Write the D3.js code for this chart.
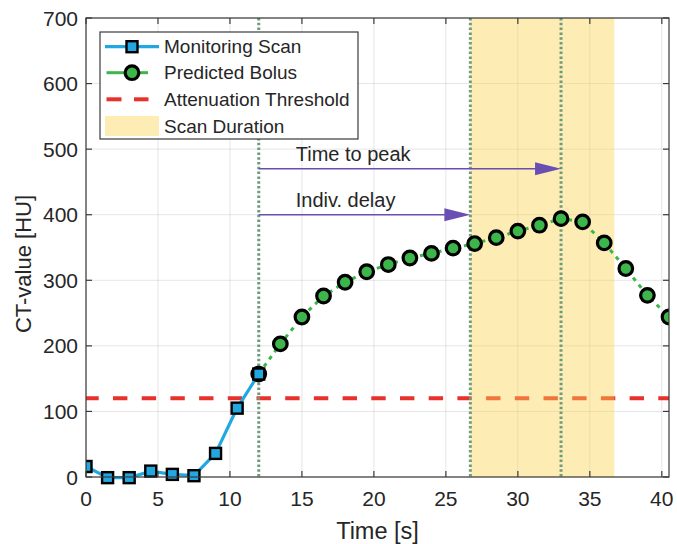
<!DOCTYPE html>
<html><head><meta charset="utf-8">
<script src="https://cdn.jsdelivr.net/npm/d3@7"></script>
<style>body{margin:0;background:#fff;} svg{display:block;font-family:"Liberation Sans",Arial,sans-serif;}</style>
</head><body>
<svg id="c" width="677" height="544"></svg>
<script>
const monitorTime = [0,1.5,3,4.5,6,7.5,9,10.5,12];
const monitorValue = [16,-1,-1,9,4,2,36,105,157];
const boluTime = [12,13.5,15,16.5,18,19.5,21,22.5,24,25.5,27,28.5,30,31.5,33,34.5,36,37.5,39,40.5];
const bolusValue = [157,203,244,276,297,313,324,334,341,349,356,365,375,384,394,389,357,318,277,244];
const threshold = 120;
const scanStart = 26.7, scanEnd = 36.7;
const arrivalTime = 12, peakTime = 33;
const xTicks = [0,5,10,15,20,25,30,35,40];
const yTicks = [0,100,200,300,400,500,600,700];
const legendLabels = ["Monitoring Scan","Predicted Bolus","Attenuation Threshold","Scan Duration"];
const arrowLabels = ["Time to peak","Indiv. delay"];
const arrowLevels = [470, 400];

const svg = d3.select("#c");
const L=86,R=669,T=18,B=477;
const x = d3.scaleLinear().domain([0,40.5]).range([L,R]);
const y = d3.scaleLinear().domain([0,700]).range([B,T]);

svg.append("defs").append("clipPath").attr("id","clip").append("rect")
  .attr("x",L).attr("y",T-10).attr("width",R-L).attr("height",B-T+20);

// grid
const g = svg.append("g");
g.selectAll(".gx").data(xTicks).join("line").attr("x1",d=>x(d)).attr("x2",d=>x(d)).attr("y1",T).attr("y2",B)
  .attr("stroke","#000").attr("stroke-opacity",0.1).attr("stroke-width",1);
g.selectAll(".gy").data(yTicks).join("line").attr("x1",L).attr("x2",R).attr("y1",d=>y(d)).attr("y2",d=>y(d))
  .attr("stroke","#000").attr("stroke-opacity",0.1).attr("stroke-width",1);

const plot = svg.append("g").attr("clip-path","url(#clip)");
// threshold
plot.append("line").attr("x1",L).attr("x2",R).attr("y1",y(threshold)).attr("y2",y(threshold))
  .attr("stroke","#e8312b").attr("stroke-width",4).attr("stroke-dasharray","14.4,14.3").attr("stroke-dashoffset",1.7);
// scan duration patch
plot.append("rect").attr("x",x(scanStart)).attr("width",x(scanEnd)-x(scanStart)).attr("y",T).attr("height",B-T)
  .attr("fill","#fad44f").attr("fill-opacity",0.42);
// dotted vertical lines
[arrivalTime, scanStart, peakTime].forEach(t=>{
  plot.append("line").attr("x1",x(t)).attr("x2",x(t)).attr("y1",T).attr("y2",B)
    .attr("stroke","#6f9c7e").attr("stroke-width",3).attr("stroke-dasharray","2.5,2.3");
});
// arrows
const arrowTargets=[peakTime, scanStart];
arrowLevels.forEach((lv,i)=>{
  const xe = x(arrowTargets[i]), yy=y(lv);
  plot.append("line").attr("x1",x(arrivalTime)).attr("x2",xe-24).attr("y1",yy).attr("y2",yy)
    .attr("stroke","#6a4fb3").attr("stroke-width",1.6);
  plot.append("path").attr("d",`M${xe},${yy}L${xe-26},${yy-6.5}L${xe-26},${yy+6.5}Z`).attr("fill","#6a4fb3");
  svg.append("text").attr("x",x(arrivalTime)+37).attr("y",yy-8).attr("font-size",20).attr("fill","#262626").text(arrowLabels[i]);
});
// series
const mData = monitorTime.map((t,i)=>[t,monitorValue[i]]);
const bData = boluTime.map((t,i)=>[t,bolusValue[i]]);
plot.append("path").datum(bData).attr("d",d3.line().x(d=>x(d[0])).y(d=>y(d[1])))
  .attr("fill","none").attr("stroke","#3cb54a").attr("stroke-width",3).attr("stroke-dasharray","4,5");
plot.append("path").datum(mData).attr("d",d3.line().x(d=>x(d[0])).y(d=>y(d[1])))
  .attr("fill","none").attr("stroke","#22a8e0").attr("stroke-width",3.2);
plot.selectAll(".circ").data(bData).join("circle").attr("cx",d=>x(d[0])).attr("cy",d=>y(d[1])).attr("r",6.8)
  .attr("fill","#3cb54a").attr("stroke","#000").attr("stroke-width",3.2);
plot.selectAll(".sq").data(mData).join("rect").attr("x",d=>x(d[0])-5.5).attr("y",d=>y(d[1])-5.5).attr("width",11).attr("height",11)
  .attr("fill","#22a8e0").attr("stroke","#000").attr("stroke-width",2.4);

// axes box
const ax = svg.append("g");
ax.append("rect").attr("x",L).attr("y",T).attr("width",R-L).attr("height",B-T).attr("fill","none").attr("stroke","#3a3a3a").attr("stroke-width",1.2);
const tl=6;
xTicks.forEach(t=>{
  ax.append("line").attr("x1",x(t)).attr("x2",x(t)).attr("y1",B).attr("y2",B-tl).attr("stroke","#3a3a3a").attr("stroke-width",1.2);
  ax.append("line").attr("x1",x(t)).attr("x2",x(t)).attr("y1",T).attr("y2",T+tl).attr("stroke","#3a3a3a").attr("stroke-width",1.2);
  ax.append("text").attr("x",x(t)).attr("y",B+29).attr("text-anchor","middle").attr("font-size",21).attr("fill","#262626").text(t);
});
yTicks.forEach(t=>{
  ax.append("line").attr("x1",L).attr("x2",L+tl).attr("y1",y(t)).attr("y2",y(t)).attr("stroke","#3a3a3a").attr("stroke-width",1.2);
  ax.append("line").attr("x1",R).attr("x2",R-tl).attr("y1",y(t)).attr("y2",y(t)).attr("stroke","#3a3a3a").attr("stroke-width",1.2);
  ax.append("text").attr("x",L-8).attr("y",y(t)+7.5).attr("text-anchor","end").attr("font-size",21).attr("fill","#262626").text(t);
});
ax.append("text").attr("x",(L+R)/2).attr("y",539).attr("text-anchor","middle").attr("font-size",23.5).attr("fill","#262626").text("Time [s]");
ax.append("text").attr("transform","translate(31,264) rotate(-90)").attr("text-anchor","middle").attr("font-size",22).attr("fill","#262626").text("CT-value [HU]");

// legend
const lg = svg.append("g");
lg.append("rect").attr("x",100).attr("y",32).attr("width",258).attr("height",107).attr("fill","#fff").attr("stroke","#3a3a3a").attr("stroke-width",1.2);
const rows=[46.7,72.7,99.3,126];
const lx0=105, lx1=159, lxc=132;
lg.append("line").attr("x1",lx0).attr("x2",lx1).attr("y1",rows[0]).attr("y2",rows[0]).attr("stroke","#22a8e0").attr("stroke-width",3.2);
lg.append("rect").attr("x",lxc-5.5).attr("y",rows[0]-5.5).attr("width",11).attr("height",11).attr("fill","#22a8e0").attr("stroke","#000").attr("stroke-width",2.4);
[[106.5,124],[140,148]].forEach(s=>lg.append("line").attr("x1",s[0]).attr("x2",s[1]).attr("y1",rows[1]).attr("y2",rows[1]).attr("stroke","#3cb54a").attr("stroke-width",3));
lg.append("circle").attr("cx",lxc).attr("cy",rows[1]).attr("r",6.8).attr("fill","#3cb54a").attr("stroke","#000").attr("stroke-width",3.2);
[[106.5,121.5],[134,148.5]].forEach(s=>lg.append("line").attr("x1",s[0]).attr("x2",s[1]).attr("y1",rows[2]).attr("y2",rows[2]).attr("stroke","#e8312b").attr("stroke-width",4));
lg.append("rect").attr("x",lx0).attr("y",rows[3]-10).attr("width",lx1-lx0).attr("height",20).attr("fill","#fad44f").attr("fill-opacity",0.42);
legendLabels.forEach((s,i)=>{
  lg.append("text").attr("x",164).attr("y",rows[i]+6.5).attr("font-size",19).attr("fill","#262626").text(s);
});
</script>
</body></html>
